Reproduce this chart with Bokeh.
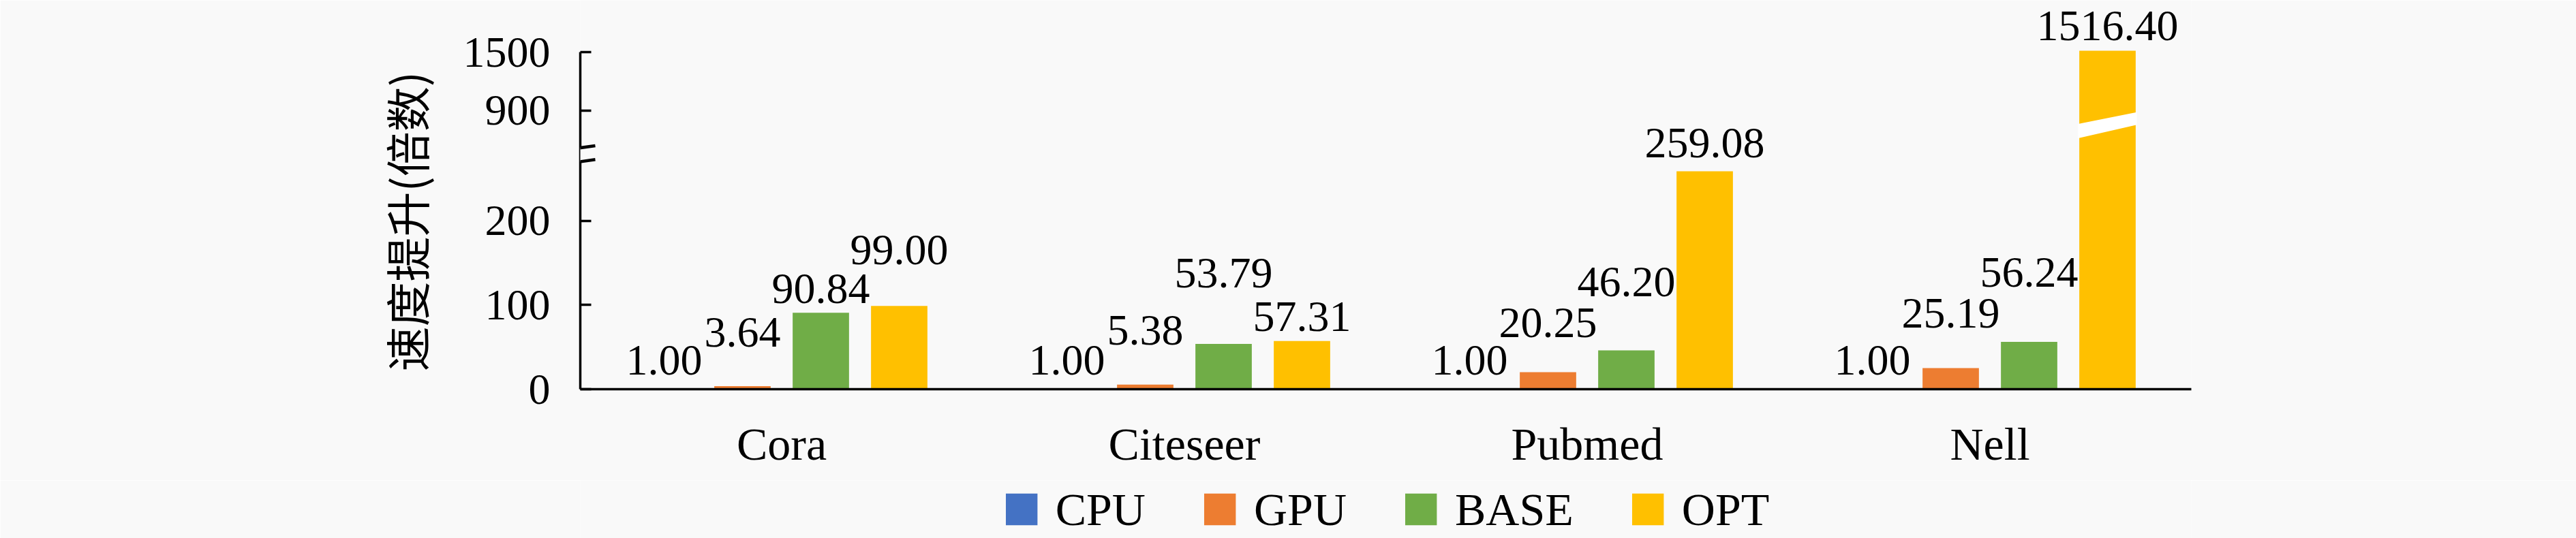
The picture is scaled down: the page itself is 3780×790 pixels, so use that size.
from bokeh.plotting import figure
from bokeh.layouts import column
from bokeh.models import (Range1d, FixedTicker, ColumnDataSource, Legend, LegendItem,
                          BoxAnnotation, Arrow, CustomJSTickFormatter, Title)
from bokeh.transform import dodge
from bokeh.core.properties import value
from bokeh.embed import file_html
from bokeh.resources import INLINE

# ---------------- data ----------------
categories = ["Cora", "Citeseer", "Pubmed", "Nell"]
series_names = ["CPU", "GPU", "BASE", "OPT"]
cpu = [1.00, 1.00, 1.00, 1.00]
gpu = [3.64, 5.38, 20.25, 25.19]
base = [90.84, 53.79, 46.20, 56.24]
opt = [99.00, 57.31, 259.08, 1516.40]
y_ticks = [0, 100, 200, 900, 1500]
y_title = "速度提升(倍数)"

# ---------------- style ----------------
colors = ["#4472C4", "#ED7D31", "#70AD47", "#FFC000"]
label_lift = [[20, 20, 20, 20], [58, 59, 51, 59], [14, 83, 79, 81], [61, 15, 21, 16]]
MID_SHIFT = 21  # baseline -> text middle
BG = "#f9f9f9"
NUM_FONT = "Liberation Serif"
BAR_W = 0.14
STEP = 0.1946

# broken y axis: lower part linear, upper part compressed
LOW_TOP = 270.4
HIGH_BOTTOM = 287.4
HIGH_START = 517.0
HIGH_SCALE = 0.115


def brk(v):
    if v <= LOW_TOP:
        return v
    return HIGH_BOTTOM + (v - HIGH_START) * HIGH_SCALE


W = 3780
H_MAIN = 705
H_LEG = 85

p = figure(x_range=categories, y_range=Range1d(0, 462.3), width=W, height=H_MAIN,
           output_backend="svg", toolbar_location=None,
           min_border_left=851, min_border_right=565, min_border_top=0,
           min_border_bottom=H_MAIN - 571,
           background_fill_color=BG, border_fill_color=BG, outline_line_color=None)
p.grid.visible = False

offsets = [-1.5 * STEP, -0.5 * STEP, 0.5 * STEP, 1.5 * STEP]
for i, (name, vals) in enumerate(zip(series_names, [cpu, gpu, base, opt])):
    src = ColumnDataSource(dict(cat=categories,
                                top=[brk(v) for v in vals],
                                lbl=[f"{v:.2f}" for v in vals],
                                lift=[-(l + MID_SHIFT) for l in label_lift[i]]))
    p.vbar(x=dodge("cat", offsets[i], range=p.x_range), top="top", width=BAR_W,
           source=src, fill_color=colors[i], line_color=None)
    p.text(x=dodge("cat", offsets[i], range=p.x_range), y="top", text="lbl", y_offset="lift",
           source=src, text_font=value(NUM_FONT), text_font_size="64px",
           text_align="center", text_baseline="middle", text_color="black")

# break stripe across the tallest bar
big = opt.index(max(opt))
xc = big + 0.5 + offsets[3]
x0, x1 = xc - BAR_W / 2 - 0.003, xc + BAR_W / 2 + 0.003
mid = HIGH_BOTTOM + 19.5
p.patch([x0, x1, x1, x0], [mid - 8.5, mid + 7.5, mid + 22.5, mid + 8.5],
        fill_color="#ffffff", line_color=None)

# y axis
yax = p.yaxis[0]
yax.ticker = FixedTicker(ticks=[brk(t) for t in y_ticks])
yax.formatter = CustomJSTickFormatter(
    args=dict(pos=[brk(t) for t in y_ticks], labels=[str(t) for t in y_ticks]),
    code="const i = pos.findIndex(t => Math.abs(t - tick) < 1e-6); return i >= 0 ? labels[i] : '';")
yax.bounds = (0, brk(max(y_ticks)))
yax.axis_line_width = 3.5
yax.axis_line_color = "black"
yax.major_tick_in = 16
yax.major_tick_out = 0
yax.major_tick_line_width = 3.5
yax.major_tick_line_color = "black"
yax.minor_tick_line_color = None
yax.major_label_text_font = NUM_FONT
yax.major_label_text_font_size = "64px"
yax.major_label_text_color = "black"
yax.major_label_standoff = 44

p.add_layout(Title(text=y_title, align="left", offset=26, standoff=67,
                   text_font="Noto Sans CJK SC", text_font_size="66px",
                   text_font_style="normal", text_color="black"), "left")

# x axis
xax = p.xaxis[0]
xax.axis_line_width = 3.5
xax.axis_line_color = "black"
xax.major_tick_line_color = None
xax.major_tick_in = 0
xax.major_tick_out = 0
xax.minor_tick_line_color = None
xax.major_label_text_font = NUM_FONT
xax.major_label_text_font_size = "68px"
xax.major_label_text_color = "black"
xax.major_label_standoff = 42

# axis break: gap + slashes
p.add_layout(BoxAnnotation(bottom=LOW_TOP, top=HIGH_BOTTOM, left=-0.05, right=0.05,
                           fill_color=BG, fill_alpha=1.0, line_color=None))
for yc in (LOW_TOP + 0.3, HIGH_BOTTOM - 0.2):
    p.add_layout(Arrow(end=None, x_start=-0.0305, y_start=yc - 2.3, x_end=0.0372, y_end=yc + 2.3,
                       line_width=4.5, line_color="black"))

# legend strip (separate figure so the legend sits below the axis labels)
lg = figure(width=W, height=H_LEG, x_range=Range1d(0, 1), y_range=Range1d(0, 1),
            x_axis_type=None, y_axis_type=None, output_backend="svg", toolbar_location=None,
            min_border_left=851, min_border_right=565, min_border_top=0, min_border_bottom=0,
            background_fill_color=BG, border_fill_color=BG, outline_line_color=None)
lg.grid.visible = False
items = []
for name, c in zip(series_names, colors):
    # legend proxy: one undrawn bar (NaN height) carrying the series colour
    r = lg.vbar(x=[0.5], top=[float("nan")], width=0.1, fill_color=c, line_color=None)
    items.append(LegendItem(label=name, renderers=[r]))
legend = Legend(items=items, orientation="horizontal", location="center",
                glyph_width=58, glyph_height=58, label_standoff=21, spacing=80,
                padding=0, margin=0, border_line_color=None, background_fill_alpha=0,
                label_text_font=NUM_FONT, label_text_font_size="68px", label_text_color="black")
lg.add_layout(legend, "center")

layout = column(p, lg, spacing=0)
open("out.html", "w").write(file_html(layout, INLINE))
